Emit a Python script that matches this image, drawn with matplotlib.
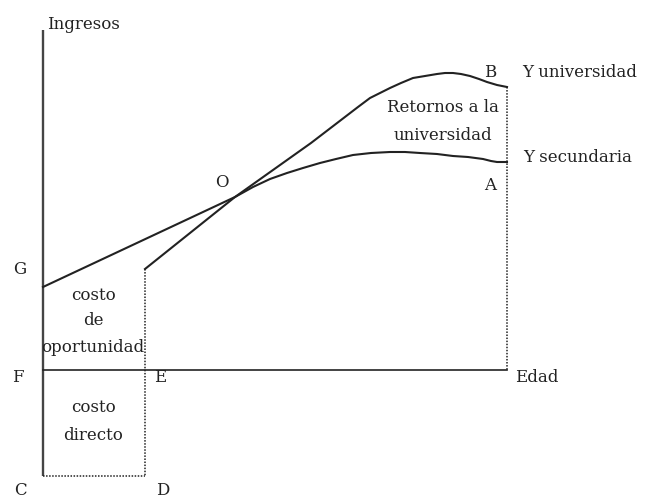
import matplotlib
matplotlib.use("Agg")
import matplotlib.pyplot as plt

# Age on x, income on y (F at the origin)
AXIS_TOP = 340
AXIS_BOTTOM = -106
AGE_END = 464
GRAD_AGE = 102

# Secondary school earnings profile (G -> O -> A)
sec_age = [0, 192, 210, 227, 244, 260, 277, 293, 310, 328, 347, 362, 377, 394,
           410, 425, 440, 448, 454, 464]
sec_income = [83, 173, 183, 191, 197, 202, 207, 211, 215, 217, 218, 218, 217, 216,
              214, 213, 211, 209, 208, 208]

# University earnings profile (starts after graduation, through O -> B)
uni_age = [102, 192, 268, 315, 327, 337, 347, 358, 370, 382, 394, 402, 410,
           418, 427, 436, 444, 454, 464]
uni_income = [101, 173, 227, 263, 272, 277, 282, 287, 292, 294, 296, 297, 297,
              296, 294, 291, 288, 285, 283]

# point labels: (text, x, y)
point_labels = [
    ("G", -23, 101), ("F", -25, -7), ("E", 117, -7), ("C", -23, -120),
    ("D", 120, -120), ("O", 179, 188), ("B", 447, 298), ("A", 447, 185),
]
side_labels = [
    ("Ingresos", 4, 346), ("Y universidad", 479, 298),
    ("Y secundaria", 480, 213), ("Edad", 472, -7),
]
area_labels = [
    ("Retornos a la", 400, 263), ("universidad", 400, 235),
    ("costo", 50, 75), ("de", 50, 50), ("oportunidad", 50, 23),
    ("costo", 50, -37), ("directo", 50, -65),
]

plt.rcParams["font.family"] = ["DejaVu Serif"]

fig = plt.figure(figsize=(6.46, 4.98), dpi=100)
ax = fig.add_axes([0, 0, 1, 1])
ax.set_xlim(-43, 603)
ax.set_ylim(-128, 370)
ax.axis("off")

ink = "#222222"
# axes
ax.plot([0, 0], [AXIS_BOTTOM, AXIS_TOP], color="#444444", lw=1.7, solid_capstyle="butt")
ax.plot([0, AGE_END], [0, 0], color=ink, lw=1.2)

# earnings profiles
ax.plot(sec_age, sec_income, color=ink, lw=1.5)
ax.plot(uni_age, uni_income, color=ink, lw=1.5)

# dotted guides
dot = dict(color="#222222", lw=1.1, linestyle=(0, (1, 1)))
ax.plot([GRAD_AGE, GRAD_AGE], [uni_income[0], AXIS_BOTTOM], **dot)
ax.plot([0, GRAD_AGE], [AXIS_BOTTOM, AXIS_BOTTOM], **dot)
ax.plot([AGE_END, AGE_END], [uni_income[-1], 0], **dot)

fs = 12
for txt, x, y in point_labels:
    ax.text(x, y, txt, ha="center", va="center", fontsize=fs, color=ink)
for txt, x, y in side_labels:
    ax.text(x, y, txt, ha="left", va="center", fontsize=fs, color=ink)
for txt, x, y in area_labels:
    ax.text(x, y, txt, ha="center", va="center", fontsize=fs, color=ink)

fig.savefig("out.png", dpi=100)
